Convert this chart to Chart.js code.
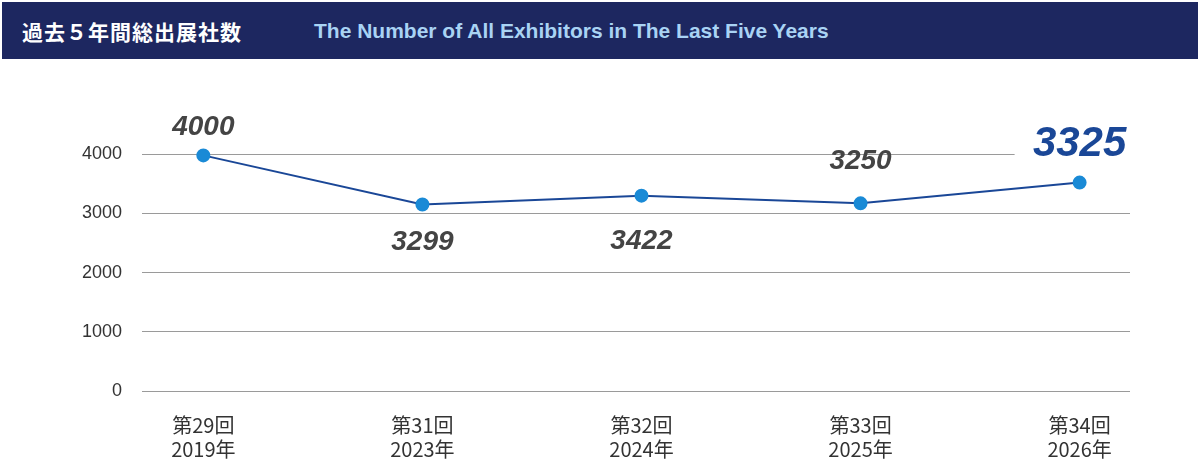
<!DOCTYPE html>
<html><head><meta charset="utf-8">
<script src="https://cdn.jsdelivr.net/npm/chart.js@4"></script>
<style>
body{margin:0;width:1200px;height:470px;background:#fff;overflow:hidden;font-family:"Noto Sans CJK JP",sans-serif}
#hd{position:absolute;left:2px;top:2px;width:1196px;height:57px;background:#1d2760}
#jp{position:absolute;left:20px;top:14px;color:#fff;font:bold 21px "Noto Sans CJK JP";letter-spacing:1px}
#en{position:absolute;left:312px;top:17px;color:#a9d3f4;font:bold 21px "Liberation Sans",Arial}
#wrap{position:absolute;left:0;top:60px;width:1200px;height:410px}
</style></head><body>
<div id="hd"><div id="jp">過去５年間総出展社数</div><div id="en">The Number of All Exhibitors in The Last Five Years</div></div>
<div id="wrap"><canvas id="c" width="1200" height="410"></canvas></div>
<script>
const sessions=["第29回","第31回","第32回","第33回","第34回"];
const years=["2019年","2023年","2024年","2025年","2026年"];
const values=[3980,3150,3300,3170,3520];
const valueLabels=["4000","3299","3422","3250","3325"];
const yTicks=[0,1000,2000,3000,4000];
const labelPlugin={id:"lbl",
beforeDatasetsDraw(ch){const c=ch.ctx,m=ch.getDatasetMeta(0).data[4];c.save();c.fillStyle="#fff";c.fillRect(m.x-65,m.y-72,130,50);c.restore();},
afterDatasetsDraw(ch){const c=ch.ctx;const pts=ch.getDatasetMeta(0).data;
const off=[[0,-28],[0,38],[0,46],[0,-42],[0,-38]];
pts.forEach((p,i)=>{c.save();c.textAlign="center";c.textBaseline="middle";
if(i===4){c.font="italic bold 42px 'Liberation Sans',Arial";c.fillStyle="#1a4797";}
else{c.font="italic bold 28px 'Liberation Sans',Arial";c.fillStyle="#444";}
c.fillText(valueLabels[i],p.x+off[i][0],p.y+off[i][1]);c.restore();});}};
new Chart(document.getElementById("c"),{type:"line",
data:{datasets:[{data:values.map((v,i)=>({x:i,y:v})),borderColor:"#1a4797",borderWidth:2,pointRadius:6,pointHoverRadius:6,pointBackgroundColor:"#1a8ad6",pointBorderColor:"#1a8ad6",tension:0}]},
options:{responsive:false,devicePixelRatio:1,animation:false,events:[],layout:{padding:{top:35,right:70,left:0,bottom:0}},
plugins:{legend:{display:false},tooltip:{enabled:false}},
scales:{x:{type:"linear",min:-0.28,max:4.23,grid:{display:false},border:{display:false},
afterBuildTicks(a){a.ticks=[0,1,2,3,4].map(v=>({value:v}));},
afterFit(a){a.height=79;},
ticks:{autoSkip:false,maxRotation:0,padding:14,color:"#333",font:{size:20,family:"'Noto Sans CJK JP'"},callback:(v)=>[sessions[v],years[v]]}},
y:{min:0,max:5000,afterBuildTicks(a){a.ticks=yTicks.map(v=>({value:v}));},
afterFit(a){a.width=142;},border:{display:false},grid:{color:"#9a9a9a",lineWidth:1,drawTicks:false},
ticks:{autoSkip:false,padding:20,color:"#333",font:{size:18,family:"'Liberation Sans',Arial"},callback:v=>String(v)}}}},
plugins:[labelPlugin]});
</script>
</body></html>
